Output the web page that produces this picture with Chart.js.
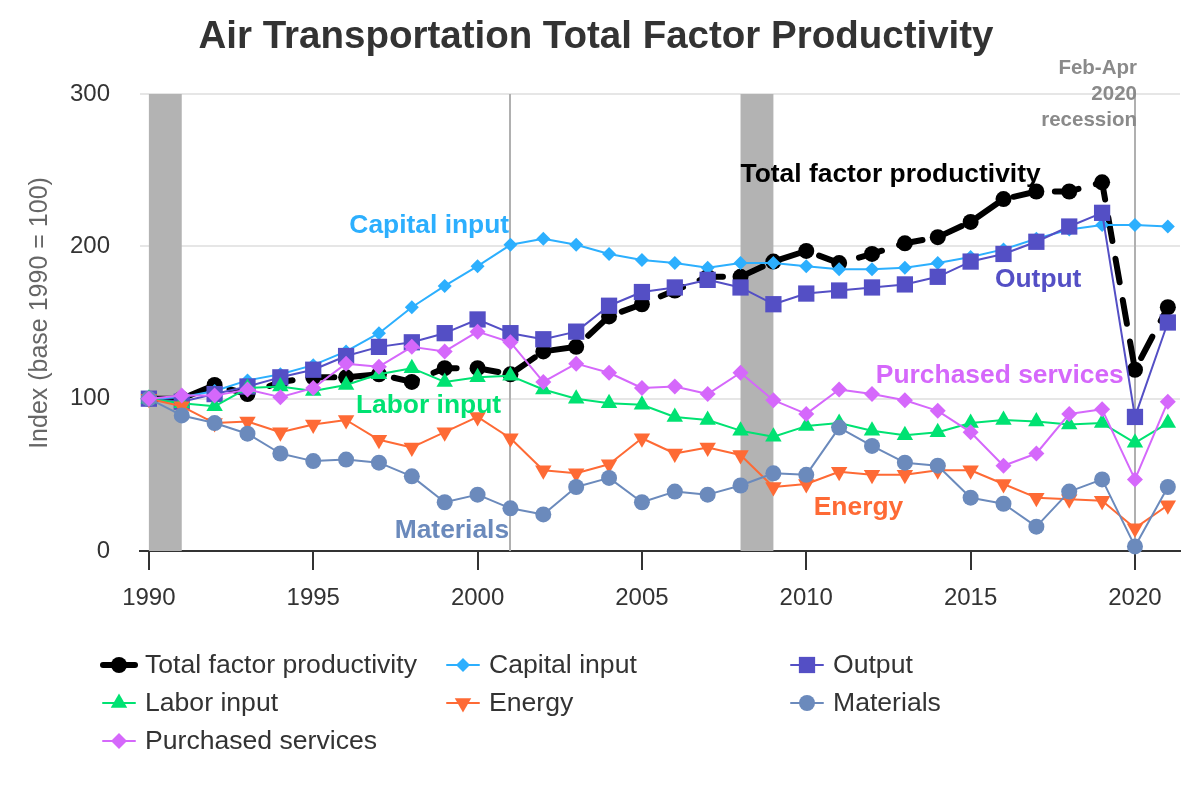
<!DOCTYPE html>
<html><head><meta charset="utf-8">
<script src="https://cdn.jsdelivr.net/npm/chart.js@4/dist/chart.umd.min.js"></script>
<style>html,body{margin:0;padding:0;background:#fff;}#wrap{width:1200px;height:800px;position:relative;}canvas{display:block;}</style>
</head><body><div id="wrap"><canvas id="c" width="1200" height="800"></canvas></div>
<script>
const years = [1990,1991,1992,1993,1994,1995,1996,1997,1998,1999,2000,2001,2002,2003,2004,2005,2006,2007,2008,2009,2010,2011,2012,2013,2014,2015,2016,2017,2018,2019,2020,2021];
const tfp       = [100,100,109,103,111,114,114,116,111,120,120,116,131,134,154,162,171,180,180,190,197,189,195,202,206,216,231,236,236,242,119,160];
const capital   = [100,101,105,112,116,122,131,143,160,174,187,201,205,201,195,191,189,186,189,189,187,185,185,186,189,193,198,205,211,214,214,213];
const output    = [100,98,103,108,114,119,128,134,137,143,152,143,139,144,161,170,173,178,173,162,169,171,173,175,180,190,195,203,213,222,88,150];
const labor     = [100,97,95,107,108,105,109,116,120,111,114,115,106,100,97,96,88,86,79,75,82,84,79,76,78,84,86,85,83,84,71,84];
const energy    = [100,95,84,85,78,83,86,73,68,78,88,74,53,51,57,74,64,68,63,42,44,52,50,50,53,53,44,35,34,33,15,30];
const materials = [100,89,84,77,64,59,60,58,49,32,37,28,24,42,48,32,39,37,43,51,50,81,69,58,56,35,31,16,39,47,3,42];
const purchased = [100,102,102,106,101,107,123,121,134,131,144,137,111,123,117,107,108,103,117,99,90,106,103,99,92,78,56,64,90,93,47,98];
const seriesNames = ['Total factor productivity','Capital input','Output','Labor input','Energy','Materials','Purchased services'];
const xTicks = [1990,1995,2000,2005,2010,2015,2020];
const yTicks = [0,100,200,300];
const bandStarts = [1990,2008];
const bandEnds = [1991,2009];
const markerYears = [2001,2020];
const recessionText = ['Feb-Apr','2020','recession'];

const FONT = '"Liberation Sans", Arial, Helvetica, sans-serif';
const colors = ['#000000','#2caffe','#544fc5','#00e272','#fe6a35','#6b8abc','#d568fb'];
const styles = [
  {pointStyle:'circle', r:8, w:6, dash:[24,18], rot:0},
  {pointStyle:'rectRot', r:7, w:2, dash:[], rot:0},
  {pointStyle:'rect', r:11.5, w:2, dash:[], rot:0},
  {pointStyle:'triangle', r:9.5, w:2, dash:[], rot:0},
  {pointStyle:'triangle', r:9.5, w:2, dash:[], rot:180},
  {pointStyle:'circle', r:8, w:2, dash:[], rot:0},
  {pointStyle:'rectRot', r:8, w:2, dash:[], rot:0}
];
const values = [tfp,capital,output,labor,energy,materials,purchased];

// Label anchors in data coordinates
const seriesLabels = [
  {text:'Total factor productivity', x:2008.0, y:242.5, align:'left', color:colors[0]},
  {text:'Capital input', x:2000.96, y:209, align:'right', color:colors[1]},
  {text:'Output', x:2015.74, y:173.5, align:'left', color:colors[2]},
  {text:'Labor input', x:1996.3, y:90.3, align:'left', color:colors[3]},
  {text:'Energy', x:2012.95, y:23.5, align:'right', color:colors[4]},
  {text:'Materials', x:2000.96, y:8.5, align:'right', color:colors[5]},
  {text:'Purchased services', x:2019.66, y:110.5, align:'right', color:colors[6]}
];

const datasets = values.map((arr,i)=>({
  label: seriesNames[i],
  data: years.map((yr,j)=>({x:yr, y:arr[j]})),
  borderColor: colors[i],
  backgroundColor: colors[i],
  borderWidth: styles[i].w,
  borderDash: styles[i].dash,
  borderCapStyle: 'round',
  borderJoinStyle: 'round',
  pointStyle: styles[i].pointStyle,
  pointRadius: styles[i].r,
  pointRotation: styles[i].rot,
  pointBorderWidth: 0,
  pointBackgroundColor: colors[i],
  pointBorderColor: colors[i],
  tension: 0,
  order: 7 - i,
  clip: false
}));

const bgPlugin = {
  id:'bg',
  beforeDatasetsDraw(chart){
    const {ctx, chartArea:a, scales:{x}} = chart;
    ctx.save();
    ctx.fillStyle = '#b3b3b3';
    bandStarts.forEach((s,i)=>{
      const x0 = x.getPixelForValue(s), x1 = x.getPixelForValue(bandEnds[i]);
      ctx.fillRect(x0, a.top, x1-x0, a.bottom-a.top);
    });
    ctx.strokeStyle = '#b0b0b0';
    ctx.lineWidth = 2;
    markerYears.forEach(m=>{
      const px = Math.round(x.getPixelForValue(m));
      ctx.beginPath(); ctx.moveTo(px, a.top); ctx.lineTo(px, a.bottom); ctx.stroke();
    });
    ctx.restore();
  },
  afterDraw(chart){
    const {ctx, chartArea:a, scales:{x,y}} = chart;
    ctx.save();
    // title
    ctx.fillStyle = '#333333';
    ctx.font = 'bold 38.5px ' + FONT;
    ctx.textAlign = 'center';
    ctx.textBaseline = 'alphabetic';
    ctx.fillText('Air Transportation Total Factor Productivity', 596, 48);
    // y axis title
    ctx.save();
    ctx.translate(47, 313);
    ctx.rotate(-Math.PI/2);
    ctx.fillStyle = '#666666';
    ctx.font = '25px ' + FONT;
    ctx.textAlign = 'center';
    ctx.textBaseline = 'alphabetic';
    ctx.fillText('Index (base 1990 = 100)', 0, 0);
    ctx.restore();
    // recession label
    ctx.fillStyle = '#8a8a8a';
    ctx.font = 'bold 20.5px ' + FONT;
    ctx.textAlign = 'right';
    const rx = x.getPixelForValue(markerYears[1]) + 2;
    recessionText.forEach((t,i)=>ctx.fillText(t, rx, a.top - 20 + i*26));
    // series labels
    ctx.font = 'bold 26.4px ' + FONT;
    seriesLabels.forEach(l=>{
      ctx.fillStyle = l.color;
      ctx.textAlign = l.align;
      ctx.fillText(l.text, x.getPixelForValue(l.x), y.getPixelForValue(l.y));
    });
    // legend
    const cols = [103, 447, 791];
    const rows = [665, 703, 741];
    ctx.font = '26.6px ' + FONT;
    ctx.textAlign = 'left';
    ctx.textBaseline = 'middle';
    seriesNames.forEach((n,i)=>{
      const cx = cols[i%3], cy = rows[Math.floor(i/3)];
      ctx.strokeStyle = colors[i];
      ctx.lineWidth = styles[i].w;
      ctx.lineCap = 'round';
      ctx.setLineDash([]);
      ctx.beginPath(); ctx.moveTo(cx, cy); ctx.lineTo(cx+32, cy); ctx.stroke();
      ctx.fillStyle = colors[i];
      Chart.helpers.drawPoint(ctx, {pointStyle:styles[i].pointStyle, radius:styles[i].r, rotation:styles[i].rot, borderWidth:0}, cx+16, cy);
      ctx.fillStyle = '#333333';
      ctx.fillText(n, cx+42, cy+1);
    });
    ctx.restore();
  }
};

new Chart(document.getElementById('c'), {
  type:'line',
  data:{datasets},
  options:{
    responsive:false,
    animation:false,
    devicePixelRatio:1,
    layout:{padding:{left:0,right:20,top:94,bottom:0}},
    plugins:{legend:{display:false}, title:{display:false}, tooltip:{enabled:false}},
    scales:{
      x:{
        type:'linear', min:1989.73, max:2021.37,
        afterBuildTicks(s){ s.ticks = xTicks.map(v=>({value:v})); },
        afterFit(s){ s.height = 249; },
        grid:{display:true, drawOnChartArea:false, drawTicks:true, tickLength:19, color:'#333333', lineWidth:2},
        border:{display:true, color:'#333333', width:2},
        ticks:{color:'#333333', font:{family:FONT, size:24}, padding:14, maxRotation:0, autoSkip:false, callback:v=>String(v)}
      },
      y:{
        min:0, max:300,
        afterBuildTicks(s){ s.ticks = yTicks.map(v=>({value:v})); },
        afterFit(s){ s.width = 140; },
        grid:{color:'#e6e6e6', lineWidth:2, drawTicks:false},
        border:{display:false},
        ticks:{color:'#333333', font:{family:FONT, size:24}, padding:30, callback:v=>String(v)}
      }
    }
  },
  plugins:[bgPlugin]
});
</script></body></html>
